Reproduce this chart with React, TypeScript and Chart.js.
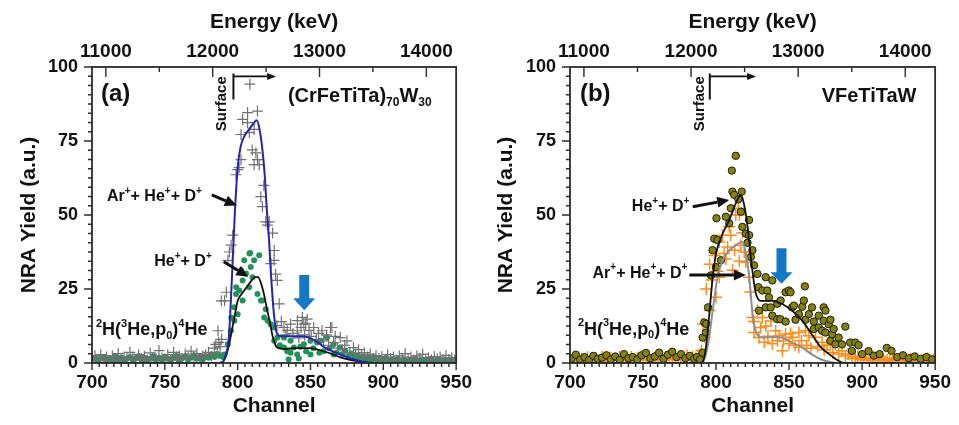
import React, { useEffect, useRef } from "react";
import { Chart, registerables } from "chart.js";

Chart.register(...registerables);

// ---------- axes ----------
const channelTicks = [700, 750, 800, 850, 900, 950];
const yieldTicks = [0, 25, 50, 75, 100];
const energyTicks = [11000, 12000, 13000, 14000];
const channelRange = [700, 950];
const yieldRange = [0, 100];
const energyRange = [10870, 14279]; // energy (keV) at channel 700 and 950

// ---------- panel (a) (CrFeTiTa)70W30 ----------
// Ar+ + He+ + D+ implanted: grey crosses [channel, yield]
const crossA: number[][] = [
  [700, 1.5], [702, 2.5], [704, 1], [706, 2.8], [708, 1.2], [710, 2], [712, 0.8], [714, 2.4], [716, 1.4], [718, 3.2],
  [720, 1], [722, 2], [724, 1.5], [726, 3.6], [728, 2], [730, 1], [732, 2.8], [734, 1.4], [736, 2.2], [738, 1],
  [740, 3.4], [742, 1.8], [744, 1.4], [746, 4.2], [748, 1.8], [750, 1.4], [752, 2.8], [754, 1], [756, 3.6], [758, 2],
  [760, 2.4], [762, 1.4], [764, 3], [766, 1.8], [768, 4], [770, 2], [772, 3.2], [774, 1.4], [776, 2.4], [778, 2.8],
  [780, 3.6], [782, 2.4], [784, 5], [785, 6.3], [786, 3.4], [786.5, 10.9], [787, 7], [788, 5.5], [788.8, 21], [789, 8],
  [791, 21], [792.2, 23.9], [793.3, 34.7], [794.3, 37.5], [795.5, 39.8], [796.6, 43.2], [798.9, 63.6], [800, 65.3], [801, 66], [802.3, 68.7],
  [802.3, 77.2], [803.4, 82.3], [806.8, 84.6], [806.8, 81.2], [808, 77.8], [808.4, 94.2], [810, 72], [811.3, 78.9], [811.3, 67], [812.5, 71],
  [813.6, 68.7], [813.6, 85.1], [814.8, 67], [815.9, 56.2], [817, 52.8], [818, 60], [819.3, 47.7], [820.4, 46.6], [821.7, 47.7], [822.8, 33.6],
  [824, 43.9], [825.1, 38], [825, 34.7], [826, 30], [827.2, 27.9], [827, 12.6], [828.5, 20], [830, 14], [831.8, 12], [833, 9.5],
  [834, 11], [836.3, 13.1], [838, 10], [840.9, 10.9], [841, 14.3], [842, 8.5], [843.5, 12], [844.4, 15.4], [845.4, 13.1], [846, 9.5],
  [846.7, 13.2], [847.7, 14.8], [849, 11], [850.5, 9], [852.2, 12], [854, 8], [855.5, 10], [857.9, 10.9], [859, 7.5], [861, 9.5],
  [862.5, 6], [863.7, 12], [864.7, 12], [865.8, 6.9], [867, 9], [868.5, 5], [870.4, 8.6], [872, 4.5], [873.5, 6], [875, 7.5],
  [877, 3.5], [879.5, 5.2], [881, 3], [883, 4.5], [885, 2.5], [887, 3.5], [889, 2], [891, 3], [893, 1.5], [895, 2.5],
  [897, 1.5], [899, 2.2], [901, 1.2], [903, 2.8], [905, 1.5], [907, 2], [909, 1], [911, 2.4], [913, 1.4], [915, 3.2],
  [917, 1.2], [919, 2], [921, 1], [923, 2.4], [925, 1.6], [927, 3], [929, 1.2], [931, 1.8], [933, 1], [935, 2.2],
  [937, 1.4], [939, 2], [941, 1], [943, 2.6], [945, 1.2], [947, 1.8], [949, 1],
];
// He+ + D+ implanted: green dots
const dotA: number[][] = [
  [700, 1], [702, 1.8], [704, 0.8], [706, 1.4], [708, 2], [710, 1], [712, 1.6], [714, 0.8], [716, 2.2], [718, 1.2],
  [720, 1.8], [722, 0.8], [724, 1.4], [726, 2], [728, 1], [730, 1.6], [732, 2.4], [734, 1], [736, 1.8], [738, 0.8],
  [740, 1.4], [742, 2.2], [744, 1.2], [746, 1.8], [748, 1], [750, 2], [752, 1.4], [754, 0.8], [756, 1.8], [758, 2.4],
  [760, 1.2], [762, 1.6], [764, 2.2], [766, 1], [768, 1.8], [770, 2.6], [772, 1.4], [774, 2], [776, 1.2], [778, 2.4],
  [780, 1.8], [782, 2.8], [784, 2], [786, 3], [788, 2.4], [790, 2], [791, 2.9], [793.2, 6.3], [795.4, 10.9], [795.6, 15.4],
  [797.7, 14.3], [797.7, 18.8], [798.9, 23.3], [799, 25.6], [800, 16.5], [801.1, 24.5], [802.4, 31.3], [803.4, 21.1], [803.4, 27.9], [804.5, 34.7],
  [805.7, 30.2], [807.9, 25.6], [808.1, 37], [808.6, 37.2], [809, 32.4], [810.2, 29], [811.3, 34.7], [813.6, 23.3], [814.8, 36.4], [816, 21.1],
  [817, 21.1], [818.2, 15.4], [819.3, 18.2], [820.6, 14.3], [822.7, 13.1], [825, 12], [825.1, 7.5], [827.2, 8.6], [829, 6], [831.8, 8.6],
  [831.8, 5.2], [834, 4], [835, 1.2], [836.3, 7.5], [836.3, 3.5], [838.6, 5.2], [840.9, 2.9], [842, 1.5], [843, 5.5], [845.4, 6.3],
  [847, 4], [850, 7.5], [850, 2.9], [852, 5], [854.5, 6.9], [856, 3.5], [856.9, 7.5], [859, 4], [861.3, 8.6], [863, 5],
  [865.8, 6.3], [866, 2.9], [868, 3.5], [870.4, 5.2], [872, 3], [874, 4.2], [876, 2.4], [878, 3.2], [880, 1.8], [882, 2.6],
  [884, 1.4], [886, 2.2], [888, 1.2], [890, 1.8], [892, 1], [894, 1.6], [896, 0.8], [898, 1.4], [900, 1], [902, 1.6],
  [904, 0.8], [906, 1.2], [908, 0.6], [910, 1.4], [912, 0.8], [914, 1.2], [916, 0.6], [918, 1], [920, 0.8], [922, 1.4],
  [924, 0.6], [926, 1], [928, 0.8], [930, 1.2], [932, 0.6], [934, 1], [936, 0.8], [938, 1.2], [940, 0.6], [942, 1],
  [944, 0.8], [946, 1.2], [948, 0.6], [950, 1],
];
// simulated fits
const fitBlueA: number[][] = [
  [700, 0], [786, 0], [790, 0.5], [792, 3], [794, 9], [796, 28], [798, 50], [800, 66], [802, 73], [805, 77],
  [808, 79], [811, 81], [813, 82], [815, 79], [817, 72], [818.5, 64], [820, 52], [821.5, 42], [823, 29], [825, 16],
  [827, 10], [830, 9], [835, 9], [840, 9], [845, 9], [850, 8.3], [855, 7], [860, 5.2], [865, 4], [870, 3],
  [875, 2], [880, 1.2], [885, 0.6], [890, 0.2], [895, 0], [950, 0],
];
const fitBlackA: number[][] = [
  [700, 0], [788, 0], [790, 0.5], [792, 2.5], [794, 6], [796, 11], [798, 16], [800, 21], [803, 23.5], [806, 25.5],
  [809, 27.5], [812, 29], [814, 29], [816, 27], [818, 23.4], [820, 18.5], [822, 14], [824, 9], [826, 6], [828, 5],
  [832, 4.8], [840, 5], [850, 5], [855, 4.5], [860, 3.8], [865, 3], [870, 2], [875, 1.3], [880, 0.8], [885, 0.4],
  [890, 0.1], [895, 0], [950, 0],
];

// ---------- panel (b) VFeTiTaW ----------
// He+ + D+ implanted: olive dots
const dotB: number[][] = [
  [701, 1.5], [704, 2.8], [707, 1.2], [710, 2], [713, 1], [716, 2.4], [719, 1.4], [722, 1.8], [725, 2.6], [728, 1.2],
  [731, 2.2], [734, 1], [737, 3], [740, 1.6], [743, 2], [746, 1.2], [749, 2.6], [752, 3.4], [755, 1.6], [758, 2.2],
  [761, 3.5], [764, 1.4], [767, 2.8], [770, 3.8], [773, 2], [776, 3], [779, 1.6], [782, 2.4], [785, 1.4], [787, 2],
  [789, 1.2], [790.8, 3.5], [790.8, 8.6], [791.9, 13.7], [793.1, 10.3], [793.3, 13.2], [794.5, 18.8], [796.5, 29.6], [797.6, 38.1], [798.8, 42],
  [799.9, 32.4], [800.3, 48.9], [801, 41.5], [803.3, 34.7], [806.7, 49.4], [809, 47.2], [810.1, 52.3], [810.8, 65], [811.2, 57.9], [812.4, 56.8],
  [813.5, 70], [815.3, 55.3], [817, 51.1], [817.6, 57.9], [818, 46], [820.4, 43.7], [821.5, 40.6], [822.6, 48.3], [822.6, 43.2], [823.8, 35.8],
  [824.9, 38.1], [826, 33], [828.3, 30.1], [829, 25.6], [829.4, 17.7], [831.7, 24.5], [834, 29], [834, 18.8], [835, 24.5], [836.2, 22.2],
  [837.4, 18.8], [838.5, 27.9], [838.5, 16], [841.9, 14.8], [841.9, 20], [844, 14.8], [844.2, 21.1], [847.6, 23.9], [847.6, 14], [849.9, 24.5],
  [851, 23.9], [852.1, 18.8], [853.3, 19.4], [854.4, 14.6], [856.7, 16.5], [859, 19], [860.1, 21.1], [860.8, 25.9], [861.2, 14.6], [863.5, 16.5],
  [865.7, 18.8], [866.9, 14], [866.9, 11.5], [870.3, 12], [870.3, 16], [872.6, 10.9], [873.7, 18.8], [873.7, 14.3], [874.9, 10.3], [874.9, 17.7],
  [877.1, 13.1], [878.3, 14.6], [878.3, 7.5], [879.4, 9.7], [880.5, 11.5], [881.7, 6.3], [883.9, 8.6], [886.2, 6.3], [888.5, 12.3], [891.8, 6.9],
  [893, 4.1], [895.3, 6.9], [897.6, 6], [900, 3], [904.4, 4], [908, 2.5], [912, 3], [916.9, 5.1], [920.1, 4.1], [924, 2],
  [928, 2.6], [932, 1.6], [936, 2.2], [940, 1.4], [944, 2], [948, 1.2],
];
// Ar+ + He+ + D+ implanted: orange crosses
const crossB: number[][] = [
  [700, 1.2], [702, 0.8], [704, 1.8], [706, 1], [708, 1.5], [710, 0.7], [712, 2], [714, 1.2], [716, 0.8], [718, 1.6],
  [720, 1], [722, 2.2], [724, 1.2], [726, 0.8], [728, 1.8], [730, 1], [732, 1.4], [734, 2.2], [736, 0.9], [738, 1.5],
  [740, 1.1], [742, 2], [744, 0.8], [746, 1.6], [748, 1.2], [750, 2.4], [752, 1], [754, 1.5], [756, 0.8], [758, 1.8],
  [760, 1.2], [762, 2.2], [764, 1], [766, 1.6], [768, 2.4], [770, 1.2], [772, 1.8], [774, 1], [776, 2.2], [778, 1.4],
  [780, 2.6], [782, 1.2], [784, 2], [786, 1.6], [788, 2.8], [789.9, 4.1], [791, 13.2], [792.2, 8.7], [793.3, 25], [795.6, 17.7],
  [795.6, 33.4], [797, 28], [799, 36.3], [800, 22.2], [801, 31], [802.2, 40.9], [802.2, 29], [804.4, 43.2], [805.5, 37], [806.8, 35.1],
  [807.9, 39.2], [809, 46], [810, 43.2], [811.3, 31.3], [812.7, 38.1], [813.5, 50], [815.3, 52.3], [815.9, 34.5], [816, 50], [817, 39.8],
  [818, 44], [819.3, 37.5], [820.4, 34], [822.6, 29], [823.5, 24], [824.9, 15.4], [826, 14], [826, 10.3], [828.3, 17.7], [829.4, 8.6],
  [830.5, 12], [831.7, 15.4], [833, 7], [834, 12.5], [835.5, 9], [837.4, 14.2], [838.5, 6.5], [840.8, 10.9], [842, 7.5], [843.1, 9.2],
  [845.4, 4.1], [846, 7.5], [847.6, 9.8], [849.9, 6.5], [851, 10], [852.2, 8.7], [854, 6], [856.7, 10.3], [856.7, 5.3], [858.5, 7.5],
  [861.2, 10.9], [862, 6], [863.5, 9.2], [865, 5], [868.1, 8.7], [869.5, 5.5], [872.6, 7], [874, 4.5], [876, 6], [878.3, 5.9],
  [880, 3.5], [881.7, 6.4], [884, 3], [886.2, 4.1], [888.5, 2.4], [890.5, 3], [893, 1.5], [895.3, 1.8], [897, 2.4], [899, 1.2],
  [901, 1.8], [903, 1], [905, 1.6], [907, 0.8], [909, 1.4], [911, 1], [913, 1.8], [915, 0.8], [917, 1.2], [919, 0.7],
  [921, 1.6], [923, 1], [925, 1.4], [927, 0.8], [929, 1.2], [931, 0.7], [933, 1.4], [935, 1], [937, 1.6], [939, 0.8],
  [941, 1.2], [943, 0.7], [945, 1.4], [947, 1], [949, 1.2],
];
const fitBlackB: number[][] = [
  [700, 0], [789, 0], [791, 0.5], [793, 5], [794.5, 12], [796, 20], [797.7, 29], [799, 34], [801, 39], [804.5, 43.7],
  [809, 48.3], [813.6, 54], [817, 56.8], [819, 54], [821.6, 46], [824, 34.7], [827, 24], [830.6, 21], [838.5, 21], [845, 20],
  [852, 17.7], [859, 14.3], [865.5, 9.7], [872, 5.2], [879, 2.4], [884, 0.7], [888, 0], [950, 0],
];
const fitGreyB: number[][] = [
  [700, 0], [789, 0], [791, 0.3], [794.5, 6.3], [797.7, 17.7], [801, 29], [804.5, 34.7], [809, 38], [813.6, 39.8], [817.7, 41],
  [820.4, 37], [822.7, 29], [825, 16.5], [828, 9.7], [832, 8.6], [838.5, 8.8], [845, 8.6], [852, 6.9], [859, 5.2], [865.5, 2.9],
  [872, 1.2], [879, 0.3], [885, 0], [950, 0],
];

// ---------- helpers ----------
const FONT = '"Liberation Sans", Arial, Helvetica, sans-serif';
const INK = "#111111";
type Seg = [string, number]; // 0 normal, 1 superscript, 2 subscript

const toXY = (a: number[][]) => a.map(([x, y]) => ({ x, y }));

function segFont(kind: number, size: number) {
  const s = kind === 0 ? size : Math.round(size * 0.62);
  return `bold ${s}px ${FONT}`;
}
function drawRich(ctx: CanvasRenderingContext2D, x: number, y: number, segs: Seg[], size: number, align: "left" | "right") {
  let w = 0;
  for (const [t, k] of segs) { ctx.font = segFont(k, size); w += ctx.measureText(t).width; }
  let cx = align === "left" ? x : x - w;
  ctx.textAlign = "left";
  ctx.textBaseline = "middle";
  ctx.fillStyle = INK;
  for (const [t, k] of segs) {
    ctx.font = segFont(k, size);
    const dy = k === 1 ? -size * 0.36 : k === 2 ? size * 0.28 : 0;
    ctx.fillText(t, cx, y + dy);
    cx += ctx.measureText(t).width;
  }
}
function lineArrow(ctx: CanvasRenderingContext2D, x1: number, y1: number, x2: number, y2: number, lw: number, hl: number, hw: number) {
  const a = Math.atan2(y2 - y1, x2 - x1);
  const bx = x2 - hl * Math.cos(a), by = y2 - hl * Math.sin(a);
  ctx.strokeStyle = INK; ctx.fillStyle = INK; ctx.lineWidth = lw;
  ctx.beginPath(); ctx.moveTo(x1, y1); ctx.lineTo(bx, by); ctx.stroke();
  ctx.beginPath();
  ctx.moveTo(x2, y2);
  ctx.lineTo(bx + hw * Math.sin(a), by - hw * Math.cos(a));
  ctx.lineTo(bx - hw * Math.sin(a), by + hw * Math.cos(a));
  ctx.closePath(); ctx.fill();
}

type Label = { segs: Seg[]; at: number[]; size: number; align: "left" | "right" };
type PanelSpec = {
  id: string; left: number; width: number; yWidth: number; padRight: number; yTitlePad: number;
  datasets: any[]; tag: string; tagAt: number[];
  surfaceTextAt: number[]; surfaceLine: number[]; // [x, yTop, yBottom, arrowY, arrowEndX]
  labels: Label[]; arrows: number[][]; blockArrow: number[]; // [x, top, headStart, tip]
};

const framePlugin = (p: PanelSpec) => ({
  id: "frame" + p.id,
  afterDatasetsDraw(chart: any) {
    const { ctx, chartArea: ca, scales } = chart;
    const xs = scales.x, ys = scales.y, es = scales.x2;
    const X = (v: number) => xs.getPixelForValue(v);
    const Y = (v: number) => ys.getPixelForValue(v);
    ctx.save();
    ctx.strokeStyle = "#2b2b2b";
    ctx.lineWidth = 1.8;
    ctx.strokeRect(ca.left, ca.top, ca.right - ca.left, ca.bottom - ca.top);
    ctx.lineWidth = 1.4;
    ctx.beginPath();
    for (let c = channelRange[0]; c <= channelRange[1]; c += 5) {
      const px = X(c); const major = c % 50 === 0;
      ctx.moveTo(px, ca.bottom); ctx.lineTo(px, ca.bottom + (major ? 7 : 4));
    }
    for (let k = 0; k <= 32; k++) {
      const py = Y(k * 3.125); const major = k % 8 === 0;
      ctx.moveTo(ca.left, py); ctx.lineTo(ca.left - (major ? 8 : 4), py);
    }
    for (let e = 11000; e <= 14000; e += 500) {
      const px = es.getPixelForValue(e); const major = e % 1000 === 0;
      ctx.moveTo(px, ca.top); ctx.lineTo(px, ca.top + (major ? 10 : 5));
    }
    ctx.stroke();

    // panel tag
    ctx.fillStyle = INK; ctx.font = `bold 24px ${FONT}`; ctx.textAlign = "left"; ctx.textBaseline = "middle";
    ctx.fillText(p.tag, X(p.tagAt[0]), Y(p.tagAt[1]));
    // surface marker
    ctx.save();
    ctx.translate(X(p.surfaceTextAt[0]), Y(p.surfaceTextAt[1]));
    ctx.rotate(-Math.PI / 2);
    ctx.font = `bold 15px ${FONT}`; ctx.textAlign = "center"; ctx.textBaseline = "middle";
    ctx.fillText("Surface", 0, 0);
    ctx.restore();
    const [sx, sTop, sBot, sAy, sEnd] = p.surfaceLine;
    ctx.strokeStyle = INK; ctx.lineWidth = 2;
    ctx.beginPath(); ctx.moveTo(X(sx), Y(sTop)); ctx.lineTo(X(sx), Y(sBot)); ctx.stroke();
    lineArrow(ctx, X(sx), Y(sAy), X(sEnd), Y(sAy), 1.8, 9, 3.5);
    // labels
    for (const l of p.labels) drawRich(ctx, X(l.at[0]), Y(l.at[1]), l.segs, l.size, l.align);
    for (const a of p.arrows) lineArrow(ctx, X(a[0]), Y(a[1]), X(a[2]), Y(a[3]), 3, 12, 5.5);
    // blue block arrow
    const [bx, bTop, bHead, bTip] = p.blockArrow;
    const cx = X(bx);
    ctx.fillStyle = "#1478c8";
    ctx.beginPath();
    ctx.moveTo(cx - 5, Y(bTop)); ctx.lineTo(cx + 5, Y(bTop)); ctx.lineTo(cx + 5, Y(bHead));
    ctx.lineTo(cx + 11, Y(bHead)); ctx.lineTo(cx, Y(bTip)); ctx.lineTo(cx - 11, Y(bHead));
    ctx.lineTo(cx - 5, Y(bHead)); ctx.closePath(); ctx.fill();
    ctx.restore();
  },
});

const tickFont = { family: FONT, size: 19, weight: "bold" as const };
const titleFont = { family: FONT, size: 21, weight: "bold" as const };
const setTicks = (vals: number[]) => (s: any) => { s.ticks = vals.map((v) => ({ value: v })); };
const plain = (v: any) => String(v);

function buildConfig(p: PanelSpec): any {
  return {
    type: "scatter",
    data: { datasets: p.datasets },
    options: {
      animation: false,
      responsive: false,
      maintainAspectRatio: false,
      events: [],
      layout: { padding: { left: 0, right: p.padRight, top: 0, bottom: 0 } },
      plugins: { legend: { display: false }, tooltip: { enabled: false } },
      scales: {
        x: {
          type: "linear", position: "bottom", min: channelRange[0], max: channelRange[1],
          afterBuildTicks: setTicks(channelTicks), afterFit: (s: any) => { s.height = 62; },
          grid: { display: false, drawTicks: false }, border: { display: false },
          ticks: { font: tickFont, color: INK, padding: 8, maxRotation: 0, autoSkip: false, callback: plain },
          title: { display: true, text: "Channel", font: titleFont, color: INK, padding: { top: 0, bottom: 6 } },
        },
        x2: {
          type: "linear", position: "top", min: energyRange[0], max: energyRange[1],
          afterBuildTicks: setTicks(energyTicks), afterFit: (s: any) => { s.height = 67; },
          grid: { display: false, drawTicks: false }, border: { display: false },
          ticks: { font: tickFont, color: INK, padding: 4, maxRotation: 0, autoSkip: false, callback: plain },
          title: { display: true, text: "Energy (keV)", font: titleFont, color: INK, padding: { top: 10, bottom: 0 } },
        },
        y: {
          type: "linear", position: "left", min: yieldRange[0], max: yieldRange[1],
          afterBuildTicks: setTicks(yieldTicks), afterFit: (s: any) => { s.width = p.yWidth; },
          grid: { display: false, drawTicks: false }, border: { display: false },
          ticks: { font: { ...tickFont, size: 18 }, color: INK, padding: 14, callback: plain },
          title: { display: true, text: "NRA Yield (a.u.)", font: titleFont, color: INK, padding: { top: p.yTitlePad, bottom: 0 } },
        },
      },
    },
    plugins: [framePlugin(p)],
  };
}

const lineDs = (data: number[][], color: string, width: number) => ({
  type: "line", data: toXY(data), borderColor: color, borderWidth: width, pointRadius: 0,
  showLine: true, fill: false, cubicInterpolationMode: "monotone", xAxisID: "x", yAxisID: "y",
});

const supPlus: Seg = ["+", 1];
const arLabel: Seg[] = [["Ar", 0], supPlus, ["+ He", 0], supPlus, ["+ D", 0], supPlus];
const heLabel: Seg[] = [["He", 0], supPlus, ["+ D", 0], supPlus];
const reaction: Seg[] = [["2", 1], ["H(", 0], ["3", 1], ["He,p", 0], ["0", 2], [")", 0], ["4", 1], ["He", 0]];

const panelA: PanelSpec = {
  id: "a", left: 0, width: 480, yWidth: 92, padRight: 20, yTitlePad: 17,
  datasets: [
    lineDs(fitBlueA, "#2424b4", 2),
    lineDs(fitBlackA, "#111111", 1.8),
    { data: toXY(crossA), pointStyle: "cross", pointRadius: 5.5, borderColor: "#707070", borderWidth: 1.2, backgroundColor: "#707070", xAxisID: "x", yAxisID: "y" },
    { data: toXY(dotA), pointStyle: "circle", pointRadius: 3, backgroundColor: "#23925a", borderWidth: 0, xAxisID: "x", yAxisID: "y" },
  ],
  tag: "(a)", tagAt: [706.1, 90.7],
  surfaceTextAt: [789, 87.6], surfaceLine: [797.1, 97.8, 89, 96.8, 826.4],
  labels: [
    { segs: [["(CrFeTiTa)", 0], ["70", 2], ["W", 0], ["30", 2]], at: [834.5, 90], size: 20, align: "left" },
    { segs: arLabel, at: [775.4, 56.1], size: 16, align: "right" },
    { segs: heLabel, at: [782.2, 34.1], size: 16, align: "right" },
    { segs: reaction, at: [702.7, 11], size: 18, align: "left" },
  ],
  arrows: [[782.2, 56.8, 799.4, 53.2], [790.4, 34.2, 807.3, 29.1]],
  blockArrow: [845.7, 29.7, 21.9, 17.8],
};

const panelB: PanelSpec = {
  id: "b", left: 480, width: 479, yWidth: 90, padRight: 22, yTitlePad: 14,
  datasets: [
    lineDs(fitBlackB, "#111111", 1.8),
    lineDs(fitGreyB, "#8e8e8e", 2),
    { data: toXY(dotB), pointStyle: "circle", pointRadius: 3.7, backgroundColor: "#858214", borderColor: "#1e1e05", borderWidth: 1, xAxisID: "x", yAxisID: "y" },
    { data: toXY(crossB), pointStyle: "cross", pointRadius: 6, borderColor: "#ff8c1a", borderWidth: 1.5, backgroundColor: "#ff8c1a", xAxisID: "x", yAxisID: "y" },
  ],
  tag: "(b)", tagAt: [706.8, 90.7],
  surfaceTextAt: [789.2, 87.6], surfaceLine: [795.7, 97.8, 89, 96.8, 827.4],
  labels: [
    { segs: [["VFeTiTaW", 0]], at: [872.3, 90], size: 20, align: "left" },
    { segs: heLabel, at: [781.7, 52.7], size: 16, align: "right" },
    { segs: arLabel, at: [780.4, 30.3], size: 16, align: "right" },
    { segs: reaction, at: [705.4, 11.3], size: 18, align: "left" },
  ],
  arrows: [[784, 52.8, 809, 55.1], [781.7, 29.7, 820.4, 29.7]],
  blockArrow: [844.8, 38.8, 30.7, 26.8],
};

function Panel({ spec }: { spec: PanelSpec }) {
  const ref = useRef<HTMLCanvasElement>(null);
  useEffect(() => {
    const chart = new Chart(ref.current as HTMLCanvasElement, buildConfig(spec));
    return () => chart.destroy();
  }, [spec]);
  return (
    <canvas
      ref={ref}
      width={spec.width}
      height={425}
      style={{ position: "absolute", left: spec.left, top: 0, width: spec.width, height: 425 }}
    />
  );
}

export default function App() {
  return (
    <div style={{ position: "fixed", left: 0, top: 0, width: 959, height: 425, background: "#ffffff", overflow: "hidden" }}>
      <Panel spec={panelA} />
      <Panel spec={panelB} />
    </div>
  );
}
